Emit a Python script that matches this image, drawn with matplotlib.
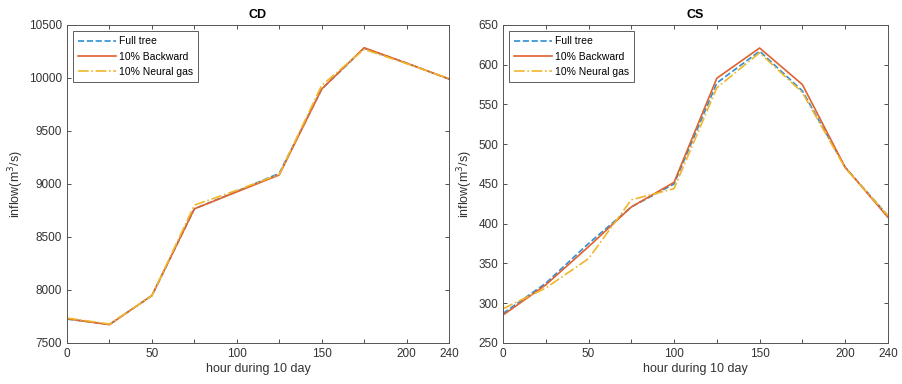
import matplotlib
matplotlib.use("Agg")
import matplotlib.pyplot as plt

plt.rcParams['font.family'] = ['Liberation Sans', 'DejaVu Sans']

hours = [0, 25, 50, 75, 100, 125, 150, 175, 200, 225]
xtick_labels = ['0', '', '50', '', '100', '', '150', '', '200', '240']

cd_full = [7725, 7675, 7945, 8765, 8930, 9100, 9895, 10280, 10140, 9990]
cd_backward = [7728, 7672, 7948, 8765, 8925, 9085, 9895, 10285, 10140, 9990]
cd_neural = [7735, 7678, 7945, 8800, 8940, 9090, 9930, 10270, 10135, 9995]

cs_full = [287, 325, 375, 421, 450, 577, 617, 567, 471, 410]
cs_backward = [285, 323, 371, 421, 452, 583, 621, 575, 471, 408]
cs_neural = [293, 319, 356, 430, 444, 571, 615, 565, 470, 410]

series_names = ['Full tree', '10% Backward', '10% Neural gas']
colors = ['#2f8fd6', '#e0622c', '#f0b62c']
styles = ['--', '-', '-.']

fig = plt.figure(figsize=(9.02, 3.84), dpi=100)
ax1 = fig.add_axes([0.0743, 0.107, 0.4235, 0.828])
ax2 = fig.add_axes([0.5576, 0.107, 0.4268, 0.828])

def style(ax, title, ylim, yticks):
    ax.set_xlim(0, 225)
    ax.set_xticks(hours)
    ax.set_xticklabels(xtick_labels)
    ax.set_ylim(*ylim)
    ax.set_yticks(yticks)
    ax.tick_params(direction='in', top=True, right=True, labelsize=8.5,
                   colors='#333333', length=3, width=0.6)
    for s in ax.spines.values():
        s.set_color('#555555')
        s.set_linewidth(0.7)
    ax.set_title(title, fontsize=9, fontweight='bold', pad=5)
    ax.set_xlabel('hour during 10 day', fontsize=9, color='#333333', labelpad=2)
    ax.set_ylabel('inflow(m$^3$/s)', fontsize=9, color='#333333', labelpad=2)
    leg = ax.legend(loc='upper left', fontsize=7.5, frameon=True, fancybox=False,
                    edgecolor='#333333', handlelength=3.6, borderpad=0.5,
                    labelspacing=0.5, handletextpad=0.3, borderaxespad=0.6)
    leg.get_frame().set_linewidth(0.7)

for ax, data in [(ax1, [cd_full, cd_backward, cd_neural]),
                 (ax2, [cs_full, cs_backward, cs_neural])]:
    for vals, name, c, ls in zip(data, series_names, colors, styles):
        ax.plot(hours, vals, ls, color=c, lw=1.2, label=name)

style(ax1, 'CD', (7500, 10500), range(7500, 10501, 500))
style(ax2, 'CS', (250, 650), range(250, 651, 50))

fig.savefig('out.png', dpi=100)
